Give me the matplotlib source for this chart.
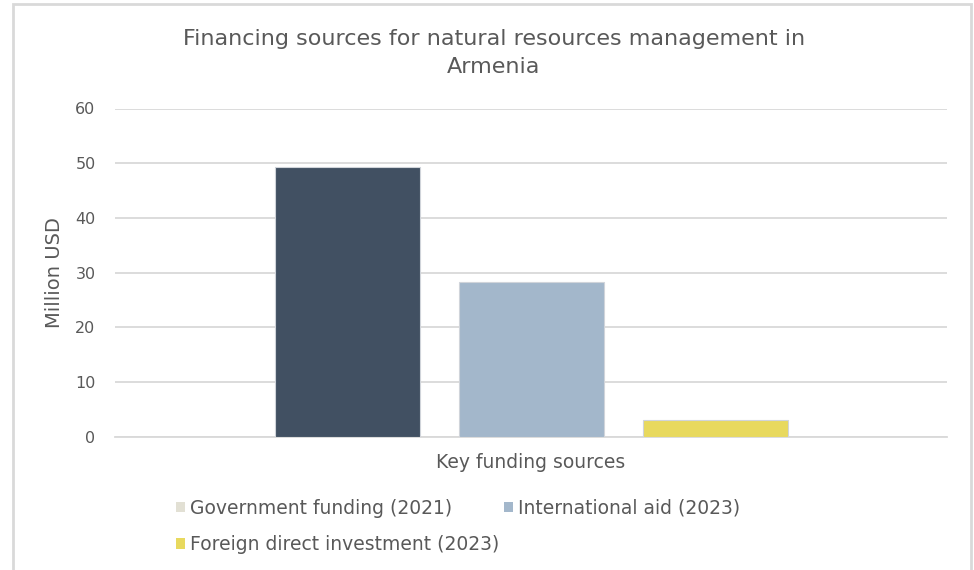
import matplotlib.pyplot as plt
from matplotlib.patches import Patch, Rectangle

plt.rcParams['font.family'] = ['DejaVu Sans']

title = 'Financing sources for natural resources management in\nArmenia'
category = 'Key funding sources'
series = ['Government funding (2021)', 'International aid (2023)',
          'Foreign direct investment (2023)']
values = [49.3, 28.2, 3.0]
bar_colors = ['#415062', '#a3b7cb', '#e8d95e']
legend_colors = ['#e2e0d4', '#a3b7cb', '#e8d95e']
yticks = [0, 10, 20, 30, 40, 50, 60]

text_col = '#595959'
grid_col = '#d9d9d9'

fig = plt.figure(figsize=(9.74, 5.70), dpi=100)
fig.patches.append(Rectangle((13 / 974, -0.01), 958 / 974, 1 - 3.5 / 570 + 0.01,
                             transform=fig.transFigure, fill=False,
                             edgecolor='#d9d9d9', linewidth=2))

ax = fig.add_axes([115 / 974, 1 - 436.7 / 570, 832 / 974, (436.7 - 108.5) / 570])

step = 1 + 39 / 145
for i, (v, c) in enumerate(zip(values, bar_colors)):
    ax.bar((i - 1) * step, v, width=1.0, color=c, edgecolor='#d0d4da',
           linewidth=0.8, zorder=3)

ax.set_xlim(-416 / 145, 416 / 145)
ax.set_ylim(0, 60)
ax.set_yticks(yticks)
ax.set_xticks([])
ax.yaxis.grid(True, color=grid_col, linewidth=1.3, zorder=0)
for s in ['top', 'right', 'left']:
    ax.spines[s].set_visible(False)
ax.spines['bottom'].set_color(grid_col)
ax.spines['bottom'].set_linewidth(1.3)
ax.tick_params(axis='y', length=0, pad=14, labelsize=11.5, labelcolor=text_col)

ax.set_ylabel('Million USD', fontsize=14, color=text_col, labelpad=8)
ax.set_xlabel(category, fontsize=13.5, color=text_col, labelpad=12)

fig.text(494 / 974, 1 - 53 / 570, title, ha='center', va='center',
         fontsize=16, color=text_col, linespacing=1.55)

# legend is filled column by column, so order it to read row by row
order = [0, 2, 1]
handles = [Patch(facecolor=legend_colors[k], edgecolor='none') for k in order]
labels = [series[k] for k in order]
fig.legend(handles, labels, loc='upper left', bbox_to_anchor=(168 / 974, 1 - 491 / 570),
           ncol=2, frameon=False, fontsize=13.5, labelcolor=text_col,
           handlelength=0.5, handleheight=0.5, handletextpad=0.3,
           columnspacing=0.2, labelspacing=0.95, borderaxespad=0)

fig.savefig('out.png', dpi=100)
